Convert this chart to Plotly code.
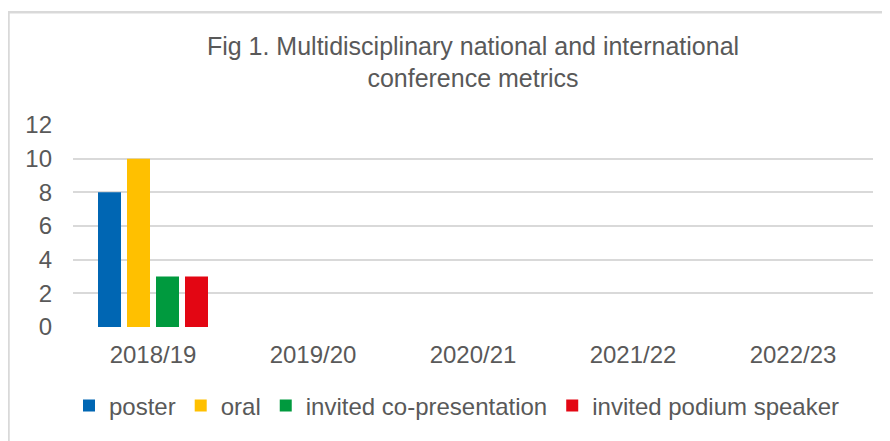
import plotly.graph_objects as go

categories = ["2018/19", "2019/20", "2020/21", "2021/22", "2022/23"]
poster = [8, None, None, None, None]
oral = [10, None, None, None, None]
invited_co = [3, None, None, None, None]
invited_podium = [3, None, None, None, None]
y_ticks = [0, 2, 4, 6, 8, 10, 12]

series = [
    ("poster", poster, "#0066b3"),
    ("oral", oral, "#ffc000"),
    ("invited co-presentation", invited_co, "#009a3e"),
    ("invited podium speaker", invited_podium, "#e30613"),
]

FONT = "Liberation Sans, Arial, sans-serif"
TXT = "#595959"

fig = go.Figure()
for name, vals, col in series:
    fig.add_trace(go.Bar(x=categories, y=vals, name=name, marker_color=col,
                         marker_line_width=0))

OFF = 8  # page body margin
W, H = 890 - OFF, 441 - OFF
ml, mr, mt, mb = 73 - OFF, 17, 125 - OFF, 111
pw = W - ml - mr
ph = H - mt - mb

fig.update_layout(
    width=W, height=H,
    margin=dict(l=ml, r=mr, t=mt, b=mb),
    paper_bgcolor="white", plot_bgcolor="white",
    barmode="group", bargap=0.275, bargroupgap=0.207,
    font=dict(family=FONT, color=TXT, size=24),
    title=dict(text="Fig 1. Multidisciplinary national and international<br>conference metrics",
               x=0.5, xanchor="center", xref="paper", y=1 - 46.5 / H, yanchor="middle",
               yref="container",
               font=dict(family=FONT, size=25, color=TXT)),
    legend=dict(orientation="h", x=0.48, xanchor="center", y=-80 / ph,
                yanchor="middle", font=dict(size=24, color=TXT), bgcolor="rgba(0,0,0,0)",
                traceorder="normal"),
    xaxis=dict(categoryorder="array", categoryarray=categories, range=[-0.5, 4.5],
               showgrid=False, zeroline=False, showline=False, ticks="",
               ticklabelstandoff=11, tickfont=dict(size=24, color=TXT)),
    yaxis=dict(range=[0, 12], tickvals=y_ticks, showgrid=True, gridcolor="#d9d9d9",
               gridwidth=1.5, zeroline=False, showline=False, ticks="",
               ticklabelstandoff=20, tickfont=dict(size=24, color=TXT)),
    shapes=[dict(type="rect", xref="paper", yref="paper",
                 x0=(8.5 - OFF - ml) / pw, x1=1.3, y0=-1.0, y1=(mt + ph - (10.5 - OFF)) / ph,
                 line=dict(color="#d9d9d9", width=2.5), fillcolor="rgba(0,0,0,0)",
                 layer="below")],
)

fig.write_html("out.html")
